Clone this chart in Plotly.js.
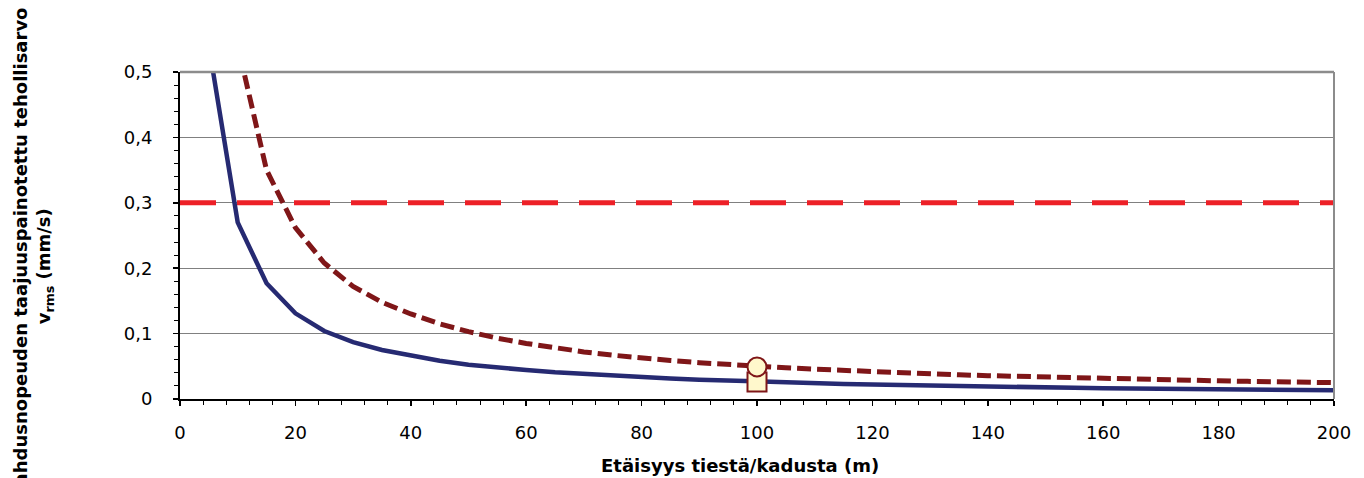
<!DOCTYPE html>
<html>
<head>
<meta charset="utf-8">
<script src="https://cdn.plot.ly/plotly-3.0.1.min.js"></script>
<style>html,body{margin:0;padding:0;background:#fff;}#chart{width:1364px;height:478px;}</style>
</head>
<body>
<div id="chart"></div>
<script>
// Distances (m)
const distSolid = [5,10,15,20,25,30,35,40,45,50,55,60,65,70,75,80,85,90,95,100,105,110,115,120,125,130,135,140,145,150,155,160,165,170,175,180,185,190,195,200];
const vrmsSolid = [0.54,0.27,0.177,0.131,0.104,0.087,0.075,0.066,0.0585,0.0525,0.048,0.0442,0.0408,0.038,0.0355,0.0333,0.0313,0.0296,0.028,0.0266,0.0253,0.0241,0.0231,0.0221,0.0212,0.0204,0.0196,0.019,0.0183,0.0177,0.0171,0.0166,0.0161,0.0156,0.0152,0.0147,0.0143,0.014,0.0136,0.0133];
const distDashed = [11.2,15,20,25,30,35,40,45,50,55,60,65,70,75,80,85,90,95,100,105,110,115,120,125,130,135,140,145,150,155,160,165,170,175,180,185,190,195,200];
const vrmsDashed = [0.495,0.35,0.262,0.208,0.172,0.148,0.13,0.115,0.103,0.093,0.085,0.078,0.072,0.067,0.0625,0.0588,0.0555,0.0525,0.050,0.0477,0.0455,0.0435,0.0416,0.040,0.0385,0.037,0.0357,0.0345,0.0333,0.0322,0.0312,0.0302,0.0294,0.0286,0.0278,0.027,0.0263,0.0256,0.025];
const limitX = [0, 200];
const limitY = [0.3, 0.3];
const measX1 = [100];
const measY1 = [0.026];
const measX2 = [100];
const measY2 = [0.049];
const xTitle = "Etäisyys tiestä/kadusta (m)";
const yTitle = "Heilahdusnopeuden taajuuspainotettu tehollisarvo<br>v<sub>rms</sub> (mm/s)";

const traces = [
  {x: limitX, y: limitY, mode: 'lines', line: {color: '#ED2027', width: 5, dash: '36px,21px'}, hoverinfo: 'skip'},
  {x: distSolid, y: vrmsSolid, mode: 'lines', line: {color: '#262A72', width: 4.5}},
  {x: distDashed, y: vrmsDashed, mode: 'lines', line: {color: '#7F1618', width: 5, dash: '14px,6px'}},
  {x: measX1, y: measY1, mode: 'markers', marker: {symbol: 'square', size: 19, color: '#FFF8CC', line: {color: '#7F1618', width: 2}}},
  {x: measX2, y: measY2, mode: 'markers', marker: {symbol: 'circle', size: 19, color: '#FFF8CC', line: {color: '#7F1618', width: 2}}}
];

const fam = 'DejaVu Sans, Verdana, sans-serif';
const font = {family: fam, size: 18, color: '#000'};

const layout = {
  width: 1364, height: 478,
  margin: {l: 180, r: 30, t: 72, b: 79, pad: 0},
  paper_bgcolor: '#fff', plot_bgcolor: '#fff',
  showlegend: false,
  separators: ', ',
  font: font,
  xaxis: {
    range: [0, 200], dtick: 20, tick0: 0,
    showgrid: false, zeroline: false,
    showline: true, linecolor: '#000', linewidth: 2,
    ticks: 'outside', ticklen: 5, tickcolor: '#000', tickwidth: 1.5,
    ticklabelstandoff: 11,
    minor: {dtick: 4, ticks: 'outside', ticklen: 4, tickcolor: '#000', tickwidth: 1, showgrid: false},
    tickfont: font
  },
  yaxis: {
    range: [0, 0.5], dtick: 0.1, tick0: 0,
    showgrid: true, gridcolor: '#808080', gridwidth: 1,
    zeroline: false,
    showline: true, linecolor: '#000', linewidth: 2,
    ticks: 'outside', ticklen: 5, tickcolor: '#000', tickwidth: 1.5,
    ticklabelstandoff: 17,
    minor: {dtick: 0.02, ticks: 'outside', ticklen: 4, tickcolor: '#000', tickwidth: 1, showgrid: false},
    tickfont: font
  },
  shapes: [
    {type: 'line', xref: 'paper', yref: 'paper', x0: 0, x1: 1, y0: 1, y1: 1, line: {color: '#8C8C8C', width: 2.5}},
    {type: 'line', xref: 'paper', yref: 'paper', x0: 1, x1: 1, y0: 0, y1: 1, line: {color: '#8C8C8C', width: 2}}
  ],
  annotations: [
    {text: xTitle, xref: 'paper', yref: 'paper', x: (740 - 180) / 1154, y: 0, yshift: -66, xanchor: 'center', yanchor: 'middle', showarrow: false,
     font: {family: fam, size: 18, color: '#000', weight: 'bold'}},
    {text: yTitle, xref: 'paper', yref: 'paper', x: 0, xshift: -147, y: (399 - 267) / 327, xanchor: 'center', yanchor: 'middle', textangle: -90, showarrow: false,
     font: {family: fam, size: 18, color: '#000', weight: 'bold'}}
  ]
};

Plotly.newPlot('chart', traces, layout, {displayModeBar: false, staticPlot: true});
</script>
</body>
</html>
